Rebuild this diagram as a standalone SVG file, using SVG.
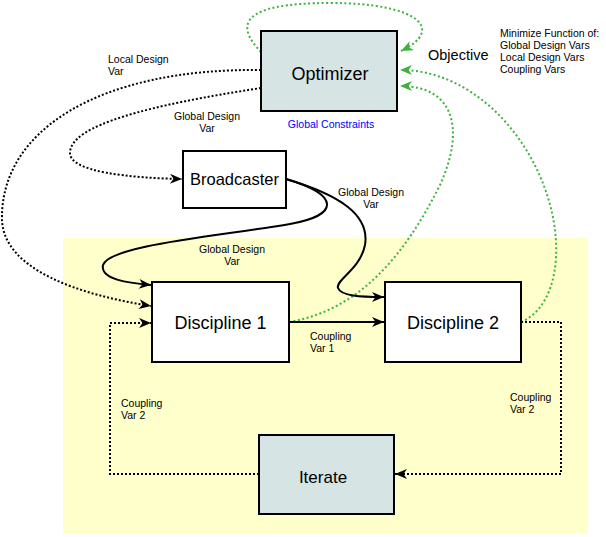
<svg xmlns="http://www.w3.org/2000/svg" width="606" height="537" viewBox="0 0 606 537">
<style>
.box{stroke:#000;stroke-width:2}
.opt{fill:#d6e4e4}
.plain{fill:#fff}
.big{font-family:"Liberation Sans",Arial,sans-serif;font-size:18px;fill:#000;text-anchor:middle}
.lbl{font-family:"Liberation Sans",Arial,sans-serif;font-size:10.5px;fill:#000}
.mid{text-anchor:middle}
.dot{fill:none;stroke:#000;stroke-width:2;stroke-dasharray:2 2}
.solid{fill:none;stroke:#000;stroke-width:2}
.green{fill:none;stroke:#3db33d;stroke-width:2;stroke-dasharray:2 2.5}
</style>
<defs>
<marker id="ab" markerUnits="userSpaceOnUse" markerWidth="13" markerHeight="11" refX="12" refY="5" orient="auto" overflow="visible">
<path d="M0,0 L12,5 L0,10 L3.5,5 Z" fill="#000"/>
</marker>
<marker id="ag" markerUnits="userSpaceOnUse" markerWidth="13" markerHeight="11" refX="12" refY="5" orient="auto" overflow="visible">
<path d="M0,0 L12,5 L0,10 L3.5,5 Z" fill="#3db33d"/>
</marker>
</defs>
<rect x="0" y="0" width="606" height="537" fill="#fff"/>
<rect id="region" x="63" y="238" width="525" height="296" fill="#ffffcc"/>

<g id="connectors">
<path class="green" d="M 261 52 C 235 25, 240 3, 330 3 C 420 3, 445 30, 401 51" marker-end="url(#ag)"/>
<path class="green" d="M 289 322 C 360 310, 405 255, 440 185 C 465 130, 455 86, 400 86" marker-end="url(#ag)"/>
<path class="green" d="M 521 322 C 550 310, 560 270, 555 230 C 545 150, 480 70, 400 70" marker-end="url(#ag)"/>
<path class="dot" d="M 261 70 C 100 68, 0 130, 2 220 C 4 270, 80 295, 151 306" marker-end="url(#ab)"/>
<path class="dot" d="M 261 88 C 150 105, 70 125, 70 153 C 70 172, 130 178, 182 179" marker-end="url(#ab)"/>
<path class="solid" d="M 286 179 C 340 195, 340 215, 290 224 C 220 236, 110 245, 103 265 C 100 280, 130 283, 151 285" marker-end="url(#ab)"/>
<path class="solid" d="M 286 179 C 340 195, 370 215, 365 245 C 360 270, 335 280, 338 288 C 341 296, 360 297, 384 297" marker-end="url(#ab)"/>
<path class="solid" d="M 289 322 L 384 322" marker-end="url(#ab)"/>
<path class="dot" d="M 521 322 L 561 322 L 561 474 L 395 474" marker-end="url(#ab)"/>
<path class="dot" d="M 259 474 L 110 474 L 110 323 L 151 323" marker-end="url(#ab)"/>

<text class="lbl" x="108" y="63">Local Design</text>
<text class="lbl" x="108" y="75">Var</text>
<text class="lbl mid" x="207" y="120">Global Design</text>
<text class="lbl mid" x="207" y="132">Var</text>
<text class="lbl mid" x="371" y="196">Global Design</text>
<text class="lbl mid" x="371" y="208">Var</text>
<text class="lbl mid" x="232" y="253">Global Design</text>
<text class="lbl mid" x="232" y="265">Var</text>
<text class="lbl" x="310" y="340">Coupling</text>
<text class="lbl" x="310" y="352">Var 1</text>
<text class="lbl" x="510" y="401">Coupling</text>
<text class="lbl" x="510" y="413">Var 2</text>
<text class="lbl" x="121" y="407">Coupling</text>
<text class="lbl" x="121" y="419">Var 2</text>
<text x="428" y="60" style="font-family:'Liberation Sans',Arial,sans-serif;font-size:14.5px;fill:#000">Objective</text>
<text class="lbl" x="500" y="37">Minimize Function of:</text>
<text class="lbl" x="500" y="49">Global Design Vars</text>
<text class="lbl" x="500" y="61">Local Design Vars</text>
<text class="lbl" x="500" y="73">Coupling Vars</text>
</g>

<g id="optimizer">
<rect class="box opt" x="261" y="31" width="136" height="80"/>
<text class="big" x="330" y="80">Optimizer</text>
<text x="331" y="128" style="font-family:'Liberation Sans',Arial,sans-serif;font-size:10.5px;fill:#0000ff;text-anchor:middle">Global Constraints</text>
</g>
<g id="broadcaster">
<rect class="box plain" x="183" y="151" width="103" height="57"/>
<text class="big" x="234.5" y="185" style="font-size:16.5px">Broadcaster</text>
</g>
<g id="discipline1">
<rect class="box plain" x="152" y="282" width="137" height="80"/>
<text class="big" x="220.5" y="329">Discipline 1</text>
</g>
<g id="discipline2">
<rect class="box plain" x="385" y="282" width="136" height="80"/>
<text class="big" x="453" y="329">Discipline 2</text>
</g>
<g id="iterate">
<rect class="box opt" x="259" y="435" width="135" height="79"/>
<text class="big" x="323" y="483" style="font-size:17px">Iterate</text>
</g>
</svg>
